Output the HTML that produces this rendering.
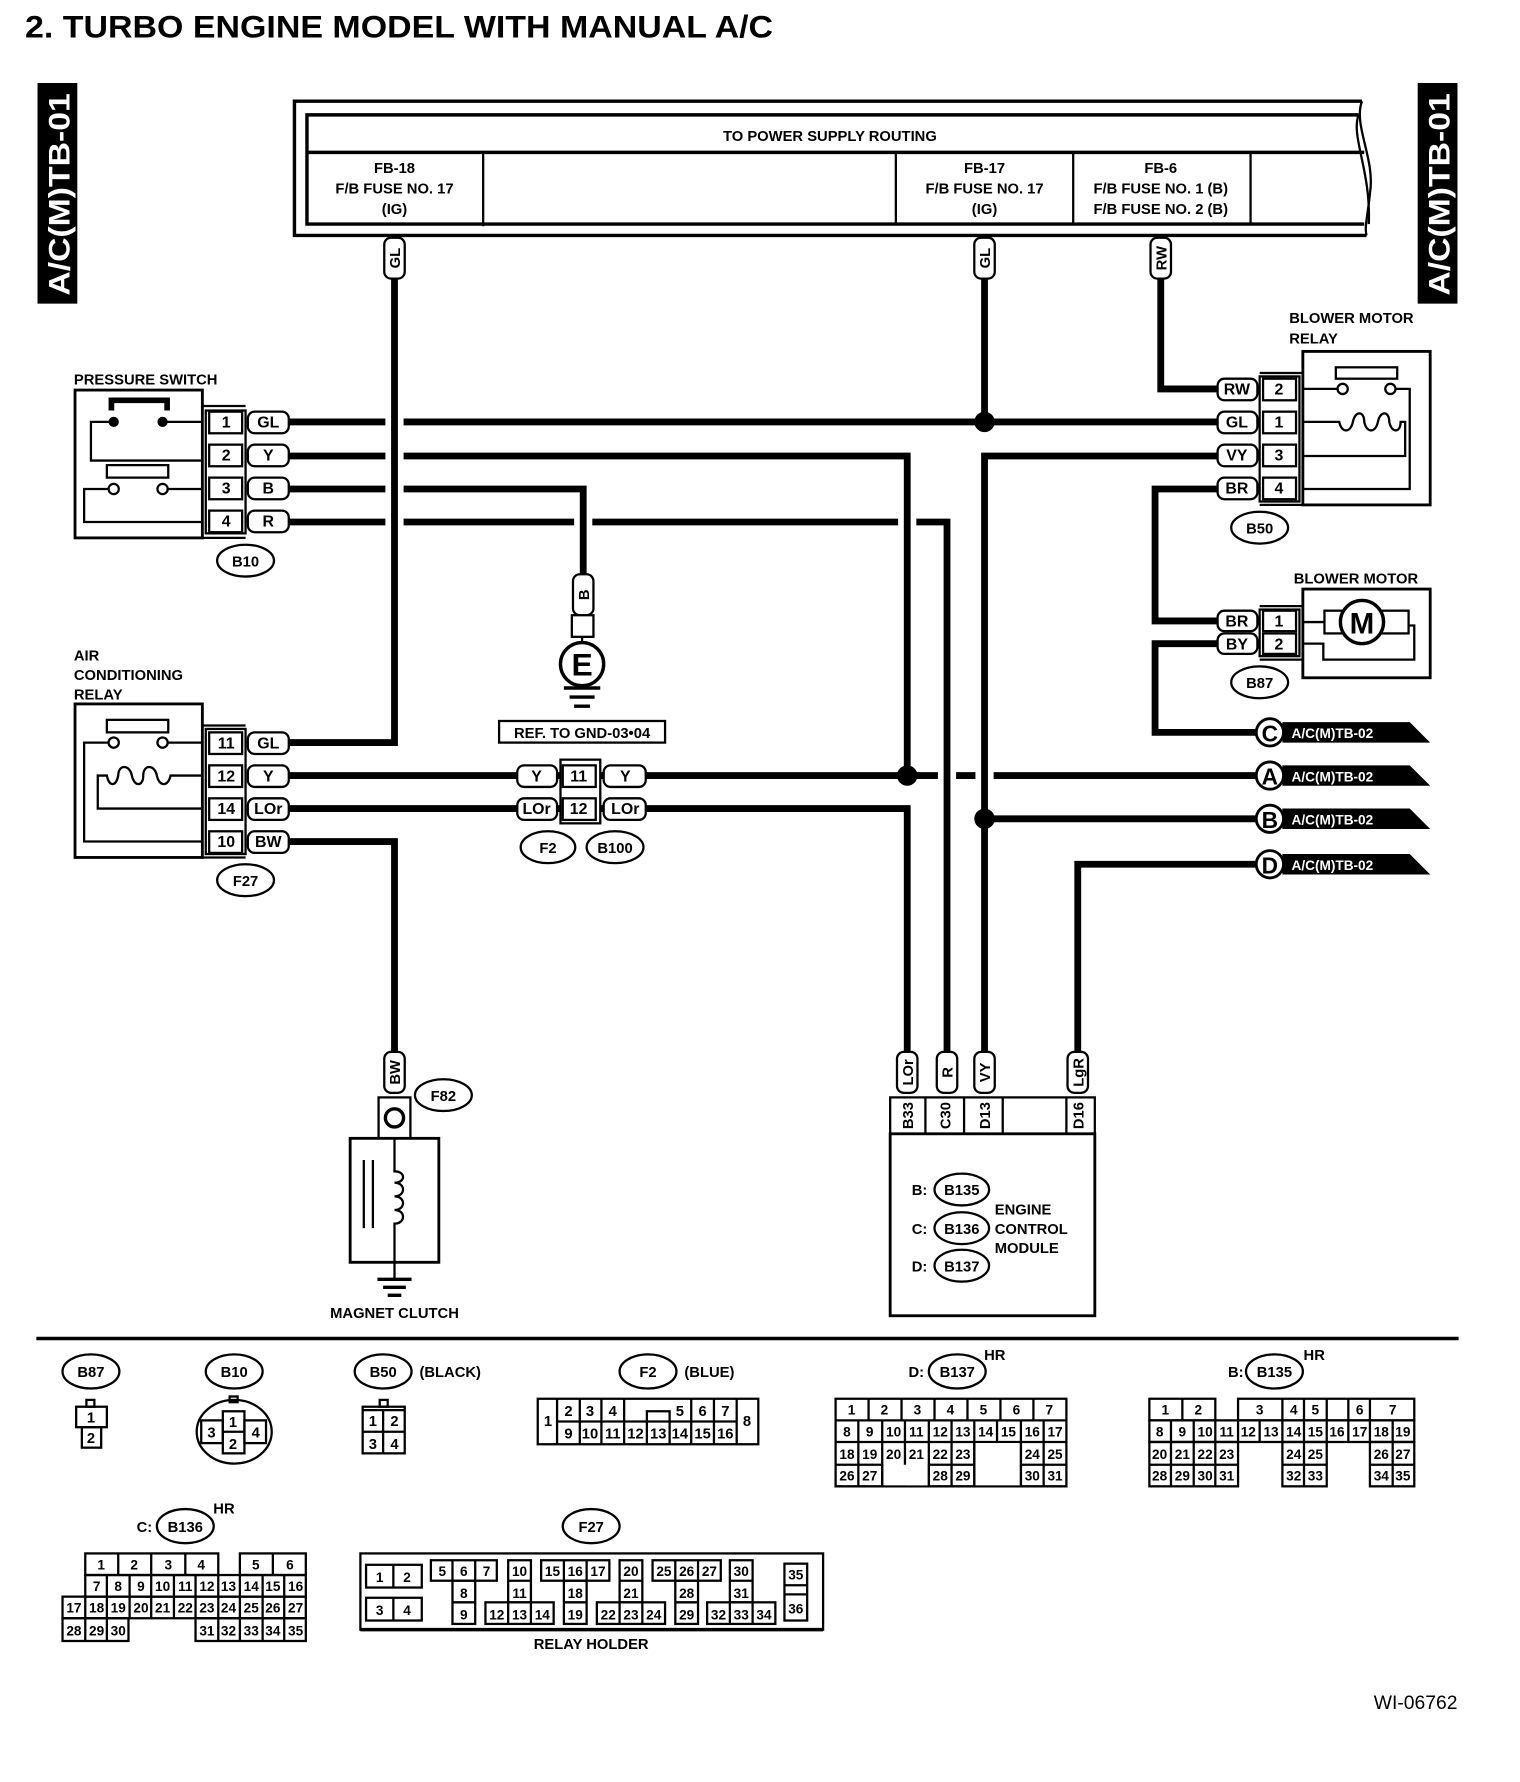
<!DOCTYPE html>
<html><head><meta charset="utf-8"><style>
html,body{margin:0;padding:0;background:#fff;}
svg{display:block;}
text{font-family:"Liberation Sans",Arial,sans-serif;font-weight:bold;fill:#000;}
.w{fill:none;stroke:#000;stroke-width:6;}
.h{fill:none;stroke:#fff;stroke-width:16;}
.t{fill:none;stroke:#000;stroke-width:2;}
.tw{fill:#fff;stroke:#000;stroke-width:2;}
.s{font-size:13px;}
.m{font-size:14px;}
</style></head><body>
<svg width="1520" height="1782" viewBox="0 0 1337 1567" preserveAspectRatio="none" xmlns="http://www.w3.org/2000/svg">
<text x="22" y="33" font-size="28" textLength="658" lengthAdjust="spacingAndGlyphs">2.  TURBO ENGINE MODEL WITH MANUAL A/C</text>

<rect x="33" y="73" width="35" height="194" fill="#000"/>
<text transform="translate(61,260) rotate(-90)" font-size="26" style="fill:#fff" textLength="178" lengthAdjust="spacingAndGlyphs">A/C(M)TB-01</text>
<rect x="1247" y="73" width="35" height="194" fill="#000"/>
<text transform="translate(1275,260) rotate(-90)" font-size="26" style="fill:#fff" textLength="178" lengthAdjust="spacingAndGlyphs">A/C(M)TB-01</text>

<path d="M1198,89 L259,89 L259,207 L1202,207" class="t" style="stroke-width:3"/>
<path d="M1198,89 C1190,110 1210,140 1205,170 C1203,190 1200,200 1202,207" class="t"/>
<path d="M1195,101 L270,101 L270,197 L1200,197" class="t" style="stroke-width:3"/>
<path d="M1195,101 C1188,120 1206,150 1204,197" class="t"/>
<line x1="270" y1="134" x2="1200" y2="134" class="t" style="stroke-width:3"/>
<line x1="425" y1="134" x2="425" y2="199" class="t"/>
<line x1="788" y1="134" x2="788" y2="197" class="t"/>
<line x1="944" y1="134" x2="944" y2="197" class="t"/>
<line x1="1100" y1="134" x2="1100" y2="197" class="t"/>
<g class="s" text-anchor="middle">
<text x="730" y="124">TO POWER SUPPLY ROUTING</text>
<text x="347" y="152">FB-18</text><text x="347" y="170">F/B FUSE NO. 17</text><text x="347" y="188">(IG)</text>
<text x="866" y="152">FB-17</text><text x="866" y="170">F/B FUSE NO. 17</text><text x="866" y="188">(IG)</text>
<text x="1021" y="152">FB-6</text><text x="1021" y="170">F/B FUSE NO. 1 (B)</text><text x="1021" y="188">F/B FUSE NO. 2 (B)</text>
</g>

<path class="w" d="M254,371 L1071,371"/>
<path class="w" d="M254,682 L1105,682"/>
<path class="w" d="M866,245 L866,371"/>
<path class="w" d="M1021,245 L1021,342 L1071,342"/>
<path class="h" d="M833,459 L833,925"/>
<path class="w" d="M254,459 L833,459 L833,925"/>
<path class="h" d="M798,401 L798,682"/>
<path class="w" d="M254,401 L798,401 L798,682"/>
<path class="w" d="M254,711 L798,711 L798,925"/>
<path class="h" d="M866,401 L866,925"/>
<path class="w" d="M1071,401 L866,401 L866,925"/>
<path class="w" d="M866,720 L1105,720"/>
<path class="w" d="M948,925 L948,760 L1105,760"/>
<path class="w" d="M1071,430 L1016,430 L1016,546 L1071,546"/>
<path class="w" d="M1071,566 L1016,566 L1016,644 L1105,644"/>
<path class="h" d="M513,430 L513,505"/>
<path class="w" d="M254,430 L513,430 L513,505"/>
<path class="h" d="M347,245 L347,653"/>
<path class="w" d="M347,245 L347,653 L254,653"/>
<path class="w" d="M254,740 L347,740 L347,925"/>
<circle cx="866" cy="371" r="9"/><circle cx="798" cy="682" r="9"/><circle cx="866" cy="720" r="9"/>

<g class="s" text-anchor="middle">
<rect x="338" y="209" width="18" height="36" rx="6" class="tw"/><text transform="translate(352,227) rotate(-90)">GL</text>
<rect x="857" y="209" width="18" height="36" rx="6" class="tw"/><text transform="translate(871,227) rotate(-90)">GL</text>
<rect x="1012" y="209" width="18" height="36" rx="6" class="tw"/><text transform="translate(1026,227) rotate(-90)">RW</text>
<rect x="504" y="505" width="18" height="36" rx="6" class="tw"/><text transform="translate(518,523) rotate(-90)">B</text>
<rect x="338" y="925" width="18" height="36" rx="6" class="tw"/><text transform="translate(352,943) rotate(-90)">BW</text>
<rect x="789" y="925" width="18" height="36" rx="6" class="tw"/><text transform="translate(803,943) rotate(-90)">LOr</text>
<rect x="824" y="925" width="18" height="36" rx="6" class="tw"/><text transform="translate(838,943) rotate(-90)">R</text>
<rect x="857" y="925" width="18" height="36" rx="6" class="tw"/><text transform="translate(871,943) rotate(-90)">VY</text>
<rect x="939" y="925" width="18" height="36" rx="6" class="tw"/><text transform="translate(953,943) rotate(-90)">LgR</text>
</g>

<text x="65" y="338" class="s">PRESSURE SWITCH</text>
<rect x="66" y="343" width="112" height="130" class="t" style="stroke-width:2.5"/>
<line x1="178" y1="357" x2="216" y2="357" class="t"/><line x1="178" y1="473" x2="216" y2="473" class="t"/>
<rect x="181" y="361" width="35" height="108" class="t"/>
<path d="M98,361 L98,352 L147,352 L147,361" fill="none" stroke="#000" stroke-width="5"/>
<circle cx="100" cy="371" r="4.5"/><circle cx="143" cy="371" r="4.5"/>
<path d="M178,371 L143,371 M100,371 L80,371 L80,405 L178,405" class="t"/>
<rect x="94" y="409" width="54" height="11" class="t"/>
<circle cx="100" cy="430" r="4.5" class="tw"/><circle cx="143" cy="430" r="4.5" class="tw"/>
<path d="M178,430 L148,430 M96,430 L74,430 L74,459 L178,459" class="t"/>
<g class="m" text-anchor="middle">
<rect x="184" y="362" width="29" height="19" class="t"/><text x="199" y="376">1</text>
<rect x="184" y="391" width="29" height="19" class="t"/><text x="199" y="405">2</text>
<rect x="184" y="420" width="29" height="19" class="t"/><text x="199" y="434">3</text>
<rect x="184" y="449" width="29" height="19" class="t"/><text x="199" y="463">4</text>
<rect x="218" y="362" width="36" height="19" rx="6" class="tw"/><text x="236" y="376">GL</text>
<rect x="218" y="391" width="36" height="19" rx="6" class="tw"/><text x="236" y="405">Y</text>
<rect x="218" y="420" width="36" height="19" rx="6" class="tw"/><text x="236" y="434">B</text>
<rect x="218" y="449" width="36" height="19" rx="6" class="tw"/><text x="236" y="463">R</text>
</g>

<text x="65" y="581" class="s">AIR</text><text x="65" y="598" class="s">CONDITIONING</text><text x="65" y="615" class="s">RELAY</text>
<rect x="66" y="619" width="112" height="135" class="t" style="stroke-width:2.5"/>
<line x1="178" y1="638" x2="216" y2="638" class="t"/><line x1="178" y1="754" x2="216" y2="754" class="t"/>
<rect x="181" y="641" width="35" height="110" class="t"/>
<rect x="94" y="633" width="54" height="11" class="t"/>
<circle cx="100" cy="653" r="4.5" class="tw"/><circle cx="143" cy="653" r="4.5" class="tw"/>
<path d="M178,653 L148,653 M96,653 L74,653 L74,740 L178,740" class="t"/>
<path d="M178,682 L150,682 C148,692 140,692 138,682 C136,672 126,672 126,682 C126,692 118,692 116,682 C114,672 104,672 104,682 C102,692 96,692 94,682 L86,682 L86,711 L178,711" class="t"/>
<g class="m" text-anchor="middle">
<rect x="184" y="644" width="29" height="19" class="t"/><text x="199" y="658">11</text>
<rect x="184" y="673" width="29" height="19" class="t"/><text x="199" y="687">12</text>
<rect x="184" y="702" width="29" height="19" class="t"/><text x="199" y="716">14</text>
<rect x="184" y="731" width="29" height="19" class="t"/><text x="199" y="745">10</text>
<rect x="218" y="644" width="36" height="19" rx="6" class="tw"/><text x="236" y="658">GL</text>
<rect x="218" y="673" width="36" height="19" rx="6" class="tw"/><text x="236" y="687">Y</text>
<rect x="218" y="702" width="36" height="19" rx="6" class="tw"/><text x="236" y="716">LOr</text>
<rect x="218" y="731" width="36" height="19" rx="6" class="tw"/><text x="236" y="745">BW</text>
</g>

<g class="m" text-anchor="middle">
<rect x="455" y="673" width="35" height="19" rx="6" class="tw"/><text x="472" y="687">Y</text>
<rect x="455" y="702" width="35" height="19" rx="6" class="tw"/><text x="472" y="716">LOr</text>
<rect x="493" y="668" width="35" height="56" class="tw"/>
<rect x="495" y="673" width="29" height="19" class="t"/><text x="509" y="687">11</text>
<rect x="495" y="702" width="29" height="19" class="t"/><text x="509" y="716">12</text>
<rect x="531" y="673" width="37" height="19" rx="6" class="tw"/><text x="550" y="687">Y</text>
<rect x="531" y="702" width="37" height="19" rx="6" class="tw"/><text x="550" y="716">LOr</text>
</g>

<rect x="503" y="541" width="19" height="19" class="tw"/>
<line x1="512" y1="560" x2="512" y2="564" class="t"/>
<circle cx="512" cy="584" r="19" class="tw" style="stroke-width:3"/>
<text x="512" y="594" font-size="28" text-anchor="middle">E</text>
<line x1="496" y1="605" x2="528" y2="605" class="t" style="stroke-width:3"/>
<line x1="501" y1="613" x2="523" y2="613" class="t" style="stroke-width:3"/>
<line x1="505" y1="621" x2="519" y2="621" class="t" style="stroke-width:3"/>
<rect x="439" y="634" width="146" height="19" class="t"/>
<text x="512" y="649" class="s" text-anchor="middle">REF. TO GND-03•04</text>

<text x="1134" y="284" class="s">BLOWER MOTOR</text><text x="1134" y="302" class="s">RELAY</text>
<rect x="1146" y="309" width="112" height="135" class="t" style="stroke-width:2.5"/>
<line x1="1108" y1="328" x2="1146" y2="328" class="t"/><line x1="1108" y1="444" x2="1146" y2="444" class="t"/>
<rect x="1108" y="331" width="35" height="110" class="t"/>
<rect x="1175" y="323" width="54" height="10" class="t"/>
<circle cx="1181" cy="342" r="4.5" class="tw"/><circle cx="1223" cy="342" r="4.5" class="tw"/>
<path d="M1146,342 L1176,342 M1228,342 L1240,342 L1240,430 L1146,430" class="t"/>
<path d="M1146,371 L1178,371 C1180,381 1188,381 1190,371 C1192,361 1200,361 1200,371 C1202,381 1210,381 1212,371 C1214,361 1222,361 1222,371 C1224,381 1232,381 1232,371 L1236,371 L1236,401 L1146,401" class="t"/>
<g class="m" text-anchor="middle">
<rect x="1111" y="333" width="29" height="19" class="t"/><text x="1125" y="347">2</text>
<rect x="1111" y="362" width="29" height="19" class="t"/><text x="1125" y="376">1</text>
<rect x="1111" y="391" width="29" height="19" class="t"/><text x="1125" y="405">3</text>
<rect x="1111" y="420" width="29" height="19" class="t"/><text x="1125" y="434">4</text>
<rect x="1071" y="333" width="35" height="19" rx="6" class="tw"/><text x="1088" y="347">RW</text>
<rect x="1071" y="362" width="35" height="19" rx="6" class="tw"/><text x="1088" y="376">GL</text>
<rect x="1071" y="391" width="35" height="19" rx="6" class="tw"/><text x="1088" y="405">VY</text>
<rect x="1071" y="420" width="35" height="19" rx="6" class="tw"/><text x="1088" y="434">BR</text>
</g>

<text x="1138" y="513" class="s">BLOWER MOTOR</text>
<rect x="1146" y="518" width="112" height="78" class="t" style="stroke-width:2.5"/>
<line x1="1108" y1="533" x2="1146" y2="533" class="t"/><line x1="1108" y1="580" x2="1146" y2="580" class="t"/>
<rect x="1108" y="536" width="35" height="41" class="t"/>
<rect x="1165" y="537" width="74" height="20" class="t"/>
<circle cx="1198" cy="547" r="19" class="tw" style="stroke-width:3"/>
<text x="1198" y="557" font-size="26" text-anchor="middle">M</text>
<path d="M1146,547 L1165,547 M1239,550 L1244,550 L1244,580 L1164,580 L1164,566 L1146,566" class="t"/>
<g class="m" text-anchor="middle">
<rect x="1111" y="537" width="29" height="18" class="t"/><text x="1125" y="551">1</text>
<rect x="1111" y="557" width="29" height="18" class="t"/><text x="1125" y="571">2</text>
<rect x="1071" y="537" width="35" height="18" rx="6" class="tw"/><text x="1088" y="551">BR</text>
<rect x="1071" y="557" width="35" height="18" rx="6" class="tw"/><text x="1088" y="571">BY</text>
</g>

<g>
<polygon points="1128,635 1240,635 1258,653 1128,653"/>
<circle cx="1117" cy="644" r="12" class="tw" style="stroke-width:2.5"/><text x="1117" y="652" font-size="20" text-anchor="middle">C</text>
<text x="1136" y="649" font-size="12" style="fill:#fff">A/C(M)TB-02</text>
<polygon points="1128,673 1240,673 1258,691 1128,691"/>
<circle cx="1117" cy="682" r="12" class="tw" style="stroke-width:2.5"/><text x="1117" y="690" font-size="20" text-anchor="middle">A</text>
<text x="1136" y="687" font-size="12" style="fill:#fff">A/C(M)TB-02</text>
<polygon points="1128,711 1240,711 1258,729 1128,729"/>
<circle cx="1117" cy="720" r="12" class="tw" style="stroke-width:2.5"/><text x="1117" y="728" font-size="20" text-anchor="middle">B</text>
<text x="1136" y="725" font-size="12" style="fill:#fff">A/C(M)TB-02</text>
<polygon points="1128,751 1240,751 1258,769 1128,769"/>
<circle cx="1117" cy="760" r="12" class="tw" style="stroke-width:2.5"/><text x="1117" y="768" font-size="20" text-anchor="middle">D</text>
<text x="1136" y="765" font-size="12" style="fill:#fff">A/C(M)TB-02</text>
</g>

<rect x="333" y="965" width="28" height="36" class="t"/>
<circle cx="347" cy="983" r="8" class="t" style="stroke-width:3"/>
<rect x="308" y="1001" width="78" height="109" class="t" style="stroke-width:2.5"/>
<line x1="320" y1="1020" x2="320" y2="1080" class="t"/><line x1="328" y1="1020" x2="328" y2="1080" class="t"/>
<path d="M347,1001 L347,1030 C357,1030 357,1040 347,1040 C357,1040 357,1052 347,1052 C357,1052 357,1064 347,1064 C357,1064 357,1076 347,1076 L347,1125" class="t"/>
<line x1="332" y1="1125" x2="362" y2="1125" class="t" style="stroke-width:3"/>
<line x1="337" y1="1132" x2="357" y2="1132" class="t" style="stroke-width:3"/>
<line x1="341" y1="1139" x2="353" y2="1139" class="t" style="stroke-width:3"/>
<text x="347" y="1159" class="s" text-anchor="middle">MAGNET CLUTCH</text>

<rect x="783" y="965" width="180" height="32" class="t"/>
<rect x="783" y="997" width="180" height="160" class="t" style="stroke-width:2.5"/>
<line x1="814" y1="965" x2="814" y2="997" class="t"/><line x1="848" y1="965" x2="848" y2="997" class="t"/>
<line x1="882" y1="965" x2="882" y2="997" class="t"/><line x1="938" y1="965" x2="938" y2="997" class="t"/>
<g class="s" text-anchor="middle">
<text transform="translate(803,981) rotate(-90)">B33</text>
<text transform="translate(836,981) rotate(-90)">C30</text>
<text transform="translate(871,981) rotate(-90)">D13</text>
<text transform="translate(953,981) rotate(-90)">D16</text>
</g>
<g class="s">
<text x="802" y="1051">B:</text><text x="802" y="1085">C:</text><text x="802" y="1118">D:</text>
<text x="875" y="1068">ENGINE</text><text x="875" y="1085">CONTROL</text><text x="875" y="1102">MODULE</text>
</g>

<g class="s" text-anchor="middle">
<ellipse cx="216" cy="493" rx="25" ry="14" class="tw"/><text x="216" y="498">B10</text>
<ellipse cx="1108" cy="464" rx="25" ry="14" class="tw"/><text x="1108" y="469">B50</text>
<ellipse cx="1108" cy="600" rx="25" ry="14" class="tw"/><text x="1108" y="605">B87</text>
<ellipse cx="216" cy="774" rx="25" ry="14" class="tw"/><text x="216" y="779">F27</text>
<ellipse cx="482" cy="745" rx="24" ry="14" class="tw"/><text x="482" y="750">F2</text>
<ellipse cx="541" cy="745" rx="25" ry="14" class="tw"/><text x="541" y="750">B100</text>
<ellipse cx="390" cy="963" rx="25" ry="14" class="tw"/><text x="390" y="968">F82</text>
<ellipse cx="846" cy="1046" rx="24" ry="14" class="tw"/><text x="846" y="1051">B135</text>
<ellipse cx="846" cy="1080" rx="24" ry="14" class="tw"/><text x="846" y="1085">B136</text>
<ellipse cx="846" cy="1113" rx="24" ry="14" class="tw"/><text x="846" y="1118">B137</text>
</g>

<line x1="32" y1="1177" x2="1283" y2="1177" stroke="#000" stroke-width="3"/>

<g class="s" text-anchor="middle">
<ellipse cx="80" cy="1206" rx="25" ry="15" class="tw"/><text x="80" y="1211">B87</text>
<ellipse cx="206" cy="1206" rx="25" ry="15" class="tw"/><text x="206" y="1211">B10</text>
<ellipse cx="337" cy="1206" rx="25" ry="15" class="tw"/><text x="337" y="1211">B50</text><text x="396" y="1211">(BLACK)</text>
<ellipse cx="570" cy="1206" rx="25" ry="15" class="tw"/><text x="570" y="1211">F2</text><text x="624" y="1211">(BLUE)</text>
<ellipse cx="842" cy="1206" rx="25" ry="15" class="tw"/><text x="842" y="1211">B137</text><text x="806" y="1211">D:</text><text x="875" y="1196">HR</text>
<ellipse cx="1121" cy="1206" rx="25" ry="15" class="tw"/><text x="1121" y="1211">B135</text><text x="1087" y="1211">B:</text><text x="1156" y="1196">HR</text>
<ellipse cx="163" cy="1342" rx="25" ry="15" class="tw"/><text x="163" y="1347">B136</text><text x="127" y="1347">C:</text><text x="197" y="1331">HR</text>
<ellipse cx="520" cy="1342" rx="25" ry="15" class="tw"/><text x="520" y="1347">F27</text>
<text x="520" y="1450">RELAY HOLDER</text>
</g>
<g class="s" text-anchor="middle" style="font-weight:normal">
<rect x="76" y="1231" width="7" height="6" class="t"/>
<rect x="67" y="1237" width="27" height="18" class="t"/><text x="80" y="1251">1</text>
<rect x="72" y="1255" width="17" height="18" class="t"/><text x="80" y="1269">2</text>
<ellipse cx="206" cy="1259" rx="33" ry="28" class="t"/>
<rect x="202" y="1228" width="7" height="5" class="t"/>
<rect x="196" y="1241" width="19" height="37" class="t"/><line x1="196" y1="1259" x2="215" y2="1259" class="t"/>
<rect x="177" y="1249" width="19" height="20" class="t"/><rect x="215" y="1249" width="19" height="20" class="t"/>
<text x="205" y="1255">1</text><text x="205" y="1274">2</text><text x="186" y="1264">3</text><text x="225" y="1264">4</text>
<rect x="334" y="1231" width="7" height="6" class="t"/>
<rect x="319" y="1237" width="37" height="41" class="t"/>
<line x1="319" y1="1240" x2="356" y2="1240" class="t"/><line x1="337" y1="1240" x2="337" y2="1278" class="t"/><line x1="319" y1="1259" x2="356" y2="1259" class="t"/>
<text x="328" y="1254">1</text><text x="347" y="1254">2</text><text x="328" y="1274">3</text><text x="347" y="1274">4</text>
<rect x="473" y="1230" width="194" height="40" class="t"/>
<line x1="490" y1="1230" x2="490" y2="1270" class="t"/><line x1="648" y1="1230" x2="648" y2="1270" class="t"/>
<line x1="490" y1="1250" x2="648" y2="1250" class="t"/>
<text x="482" y="1254">1</text><text x="657" y="1254">8</text>
<path d="M510,1230V1270M529,1230V1270M549,1230V1270M569,1250V1270M589,1250V1270M608,1230V1270M628,1230V1270M549,1250V1270" class="t"/>
<path d="M569,1250V1241H589V1250" class="t"/>
<text x="500" y="1245">2</text><text x="519" y="1245">3</text><text x="539" y="1245">4</text><text x="598" y="1245">5</text><text x="618" y="1245">6</text><text x="638" y="1245">7</text>
<text x="500" y="1265">9</text><text x="519" y="1265">10</text><text x="539" y="1265">11</text><text x="559" y="1265">12</text><text x="579" y="1265">13</text><text x="598" y="1265">14</text><text x="618" y="1265">15</text><text x="638" y="1265">16</text>
</g>
<g class="s" text-anchor="middle" style="font-weight:normal;font-size:12px">
<path d="M735,1230H938V1307H735Z M735,1249H938 M735,1268H938 M735,1288H776 M817,1288H857 M898,1288H938" class="t"/>
<path d="M764,1230V1249M793,1230V1249M822,1230V1249M851,1230V1249M880,1230V1249M909,1230V1249" class="t"/>
<path d="M755,1249V1307M776,1249V1307M796,1249V1288M817,1249V1307M837,1249V1307M857,1249V1307M877,1249V1268M898,1249V1307M918,1249V1307" class="t"/>
<rect x="777" y="1289" width="39" height="17" fill="#fff"/><rect x="858" y="1269" width="39" height="37" fill="#fff"/><rect x="797" y="1289" width="19" height="17" fill="#fff"/>
<line x1="857" y1="1268" x2="857" y2="1307" class="t"/><line x1="898" y1="1268" x2="898" y2="1307" class="t"/><line x1="817" y1="1288" x2="817" y2="1307" class="t"/><line x1="776" y1="1288" x2="776" y2="1307" class="t"/><line x1="735" y1="1307" x2="776" y2="1307" class="t"/><line x1="817" y1="1307" x2="857" y2="1307" class="t"/><line x1="898" y1="1307" x2="938" y2="1307" class="t"/>
<text x="749" y="1244">1</text><text x="778" y="1244">2</text><text x="807" y="1244">3</text><text x="836" y="1244">4</text><text x="865" y="1244">5</text><text x="894" y="1244">6</text><text x="923" y="1244">7</text>
<text x="745" y="1263">8</text><text x="765" y="1263">9</text><text x="786" y="1263">10</text><text x="806" y="1263">11</text><text x="827" y="1263">12</text><text x="847" y="1263">13</text><text x="867" y="1263">14</text><text x="887" y="1263">15</text><text x="908" y="1263">16</text><text x="928" y="1263">17</text>
<text x="745" y="1283">18</text><text x="765" y="1283">19</text><text x="786" y="1283">20</text><text x="806" y="1283">21</text><text x="827" y="1283">22</text><text x="847" y="1283">23</text><text x="908" y="1283">24</text><text x="928" y="1283">25</text>
<text x="745" y="1302">26</text><text x="765" y="1302">27</text><text x="827" y="1302">28</text><text x="847" y="1302">29</text><text x="908" y="1302">30</text><text x="928" y="1302">31</text>
<path d="M1011,1230H1069V1249H1011Z M1089,1230H1244V1249H1089Z" class="t"/>
<path d="M1040,1230V1249M1128,1230V1249M1167,1230V1249M1205,1230V1249M1186,1230V1249M1147,1230V1249" class="t"/>
<rect x="1011" y="1249" width="233" height="19" class="t"/>
<path d="M1030,1249V1268M1050,1249V1268M1069,1249V1268M1089,1249V1268M1108,1249V1268M1128,1249V1268M1147,1249V1268M1167,1249V1268M1186,1249V1268M1205,1249V1268M1225,1249V1268" class="t"/>
<rect x="1011" y="1268" width="78" height="39" class="t"/><path d="M1011,1288H1089M1030,1268V1307M1050,1268V1307M1069,1268V1307" class="t"/>
<rect x="1128" y="1268" width="39" height="39" class="t"/><path d="M1128,1288H1167M1147,1268V1307" class="t"/>
<rect x="1205" y="1268" width="39" height="39" class="t"/><path d="M1205,1288H1244M1225,1268V1307" class="t"/>
<text x="1025" y="1244">1</text><text x="1054" y="1244">2</text><text x="1108" y="1244">3</text><text x="1138" y="1244">4</text><text x="1157" y="1244">5</text><text x="1196" y="1244">6</text><text x="1225" y="1244">7</text>
<text x="1020" y="1263">8</text><text x="1040" y="1263">9</text><text x="1060" y="1263">10</text><text x="1079" y="1263">11</text><text x="1098" y="1263">12</text><text x="1118" y="1263">13</text><text x="1138" y="1263">14</text><text x="1157" y="1263">15</text><text x="1176" y="1263">16</text><text x="1196" y="1263">17</text><text x="1215" y="1263">18</text><text x="1234" y="1263">19</text>
<text x="1020" y="1283">20</text><text x="1040" y="1283">21</text><text x="1060" y="1283">22</text><text x="1079" y="1283">23</text><text x="1138" y="1283">24</text><text x="1157" y="1283">25</text><text x="1215" y="1283">26</text><text x="1234" y="1283">27</text>
<text x="1020" y="1302">28</text><text x="1040" y="1302">29</text><text x="1060" y="1302">30</text><text x="1079" y="1302">31</text><text x="1138" y="1302">32</text><text x="1157" y="1302">33</text><text x="1215" y="1302">34</text><text x="1234" y="1302">35</text>
<rect x="75" y="1366" width="117" height="19" class="t"/><path d="M104,1366V1385M133,1366V1385M163,1366V1385" class="t"/>
<rect x="211" y="1366" width="58" height="19" class="t"/><line x1="240" y1="1366" x2="240" y2="1385" class="t"/>
<rect x="75" y="1385" width="194" height="19" class="t"/>
<rect x="55" y="1404" width="214" height="19" class="t"/>
<rect x="55" y="1423" width="58" height="20" class="t"/><rect x="172" y="1423" width="97" height="20" class="t"/>
<path d="M94,1385V1443M114,1385V1423M133,1385V1423M153,1385V1423M172,1385V1423M192,1385V1443M211,1385V1443M231,1385V1443M250,1385V1443M75,1404V1443" class="t"/>
<text x="89" y="1380">1</text><text x="118" y="1380">2</text><text x="148" y="1380">3</text><text x="177" y="1380">4</text><text x="225" y="1380">5</text><text x="255" y="1380">6</text>
<text x="85" y="1399">7</text><text x="104" y="1399">8</text><text x="124" y="1399">9</text><text x="143" y="1399">10</text><text x="163" y="1399">11</text><text x="182" y="1399">12</text><text x="201" y="1399">13</text><text x="221" y="1399">14</text><text x="240" y="1399">15</text><text x="260" y="1399">16</text>
<text x="65" y="1418">17</text><text x="85" y="1418">18</text><text x="104" y="1418">19</text><text x="124" y="1418">20</text><text x="143" y="1418">21</text><text x="163" y="1418">22</text><text x="182" y="1418">23</text><text x="201" y="1418">24</text><text x="221" y="1418">25</text><text x="240" y="1418">26</text><text x="260" y="1418">27</text>
<text x="65" y="1438">28</text><text x="85" y="1438">29</text><text x="104" y="1438">30</text><text x="182" y="1438">31</text><text x="201" y="1438">32</text><text x="221" y="1438">33</text><text x="240" y="1438">34</text><text x="260" y="1438">35</text>
<rect x="317" y="1366" width="407" height="67" class="t"/>
<line x1="317" y1="1433" x2="724" y2="1433" stroke="#000" stroke-width="3"/>
<rect x="322" y="1376" width="49" height="20" class="t"/><line x1="346" y1="1376" x2="346" y2="1396" class="t"/>
<rect x="322" y="1405" width="49" height="20" class="t"/><line x1="346" y1="1405" x2="346" y2="1425" class="t"/>
<text x="334" y="1391">1</text><text x="358" y="1391">2</text><text x="334" y="1420">3</text><text x="358" y="1420">4</text>
<rect x="379" y="1372" width="58" height="18" class="t"/><path d="M398,1372V1390M418,1372V1390" class="t"/>
<rect x="398" y="1390" width="20" height="38" class="t"/><line x1="398" y1="1409" x2="418" y2="1409" class="t"/>
<text x="389" y="1386">5</text><text x="408" y="1386">6</text><text x="428" y="1386">7</text><text x="408" y="1405">8</text><text x="408" y="1424">9</text>
<rect x="447" y="1372" width="20" height="37" class="t"/><line x1="447" y1="1390" x2="467" y2="1390" class="t"/>
<rect x="427" y="1409" width="60" height="19" class="t"/><path d="M447,1409V1428M467,1409V1428" class="t"/>
<text x="457" y="1386">10</text><text x="457" y="1405">11</text><text x="437" y="1424">12</text><text x="457" y="1424">13</text><text x="477" y="1424">14</text>
<rect x="476" y="1372" width="60" height="18" class="t"/><path d="M496,1372V1390M516,1372V1390" class="t"/>
<rect x="496" y="1390" width="20" height="38" class="t"/><line x1="496" y1="1409" x2="516" y2="1409" class="t"/>
<text x="486" y="1386">15</text><text x="506" y="1386">16</text><text x="526" y="1386">17</text><text x="506" y="1405">18</text><text x="506" y="1424">19</text>
<rect x="545" y="1372" width="20" height="37" class="t"/><line x1="545" y1="1390" x2="565" y2="1390" class="t"/>
<rect x="525" y="1409" width="60" height="19" class="t"/><path d="M545,1409V1428M565,1409V1428" class="t"/>
<text x="555" y="1386">20</text><text x="555" y="1405">21</text><text x="535" y="1424">22</text><text x="555" y="1424">23</text><text x="575" y="1424">24</text>
<rect x="574" y="1372" width="60" height="18" class="t"/><path d="M594,1372V1390M614,1372V1390" class="t"/>
<rect x="594" y="1390" width="20" height="38" class="t"/><line x1="594" y1="1409" x2="614" y2="1409" class="t"/>
<text x="584" y="1386">25</text><text x="604" y="1386">26</text><text x="624" y="1386">27</text><text x="604" y="1405">28</text><text x="604" y="1424">29</text>
<rect x="642" y="1372" width="20" height="37" class="t"/><line x1="642" y1="1390" x2="662" y2="1390" class="t"/>
<rect x="622" y="1409" width="60" height="19" class="t"/><path d="M642,1409V1428M662,1409V1428" class="t"/>
<text x="652" y="1386">30</text><text x="652" y="1405">31</text><text x="632" y="1424">32</text><text x="652" y="1424">33</text><text x="672" y="1424">34</text>
<rect x="690" y="1375" width="20" height="50" class="t"/><path d="M690,1394H710M690,1402H710" class="t"/>
<text x="700" y="1389">35</text><text x="700" y="1419">36</text>
</g>
<text x="1282" y="1503" font-size="17" text-anchor="end" style="font-weight:normal">WI-06762</text>
</svg>
</body></html>
